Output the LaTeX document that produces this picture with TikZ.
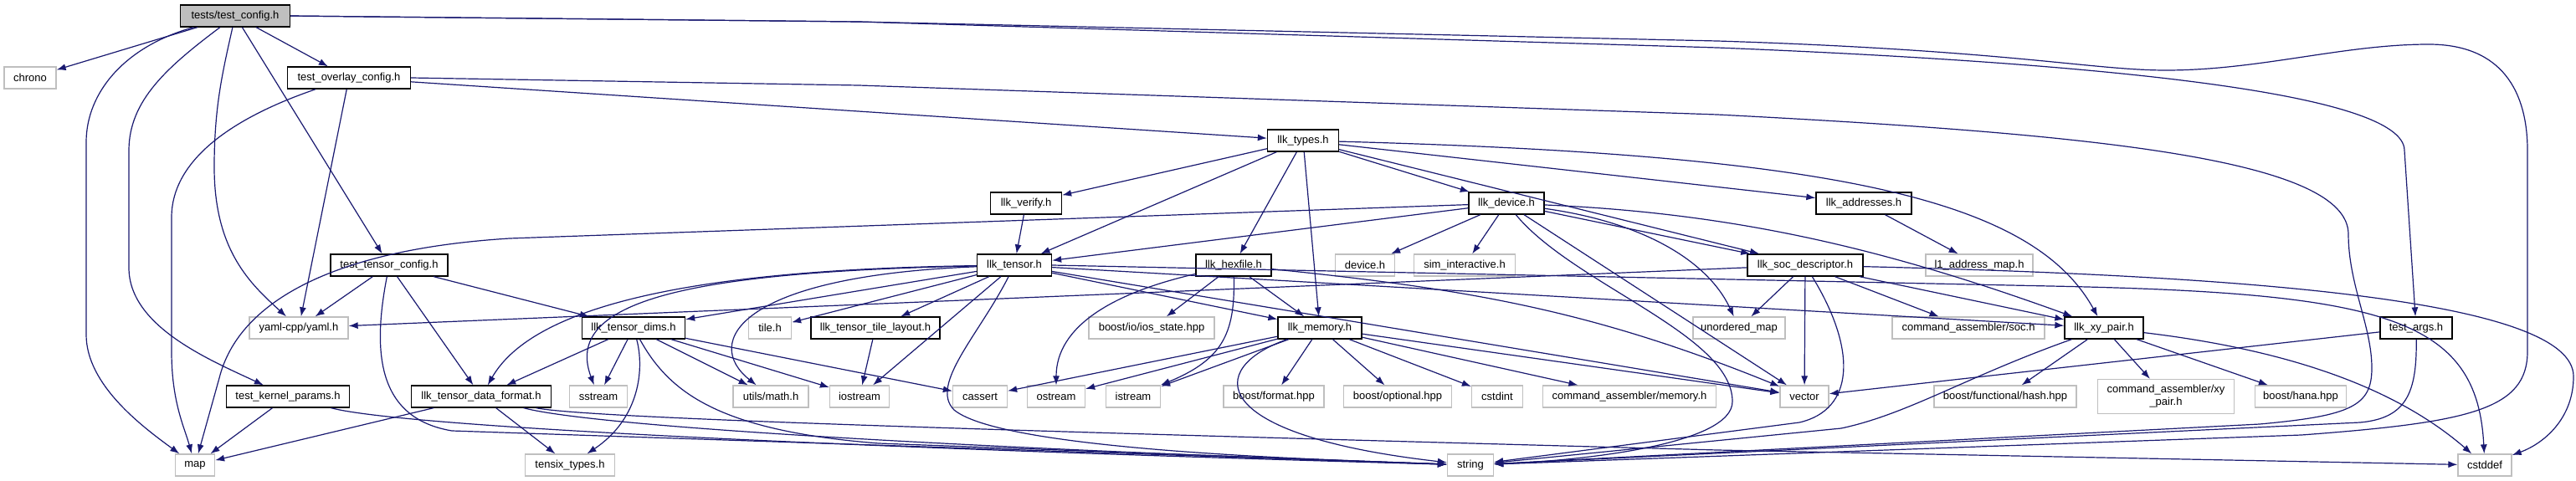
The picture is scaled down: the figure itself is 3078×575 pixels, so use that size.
\documentclass[tikz,border=0pt]{standalone}
\usepackage{fontspec}
\setmainfont{Liberation Sans}
\usetikzlibrary{arrows.meta}
\definecolor{edgec}{HTML}{191970}
\definecolor{grayb}{HTML}{BFBFBF}
\begin{document}
\begin{tikzpicture}[x=1pt,y=-1pt,
  nb/.style={draw=black, line width=1.3pt, minimum height=26pt, inner sep=0pt, font=\fontsize{13}{15}\selectfont, fill=white},
  sb/.style={draw=grayb, line width=1.3pt, minimum height=26pt, inner sep=0pt, font=\fontsize{13}{15}\selectfont, fill=white},
  e/.style={draw=edgec, line width=1.2pt, -{Latex[length=11pt,width=8pt]}},
]
\fill[white] (0,0) rectangle (3078,575);
\useasboundingbox (0,0) rectangle (3078,575);

% nodes
\node[nb, fill=grayb, minimum width=131] (cfg) at (281,19) {tests/test\_config.h};
\node[sb, minimum width=62] (chrono) at (36,93) {chrono};
\node[nb, minimum width=147] (overlay) at (417,93) {test\_overlay\_config.h};
\node[nb, minimum width=85] (types) at (1557,168) {llk\_types.h};
\node[nb, minimum width=85] (verify) at (1226,243) {llk\_verify.h};
\node[nb, minimum width=90] (device) at (1800,243) {llk\_device.h};
\node[nb, minimum width=114] (addr) at (2227,243) {llk\_addresses.h};
\node[nb, minimum width=140] (tcfg) at (465,317) {test\_tensor\_config.h};
\node[nb, minimum width=89] (tensor) at (1212,317) {llk\_tensor.h};
\node[nb, minimum width=90] (hexfile) at (1474,317) {llk\_hexfile.h};
\node[sb, minimum width=71] (deviceh) at (1631,317) {device.h};
\node[sb, minimum width=121] (sim) at (1750,317) {sim\_interactive.h};
\node[nb, minimum width=138] (soc) at (2157,317) {llk\_soc\_descriptor.h};
\node[sb, minimum width=128] (l1) at (2365,317) {l1\_address\_map.h};
\node[sb, minimum width=118] (yaml) at (357,392) {yaml-cpp/yaml.h};
\node[nb, minimum width=123] (dims) at (757,392) {llk\_tensor\_dims.h};
\node[sb, minimum width=51] (tile) at (920,392) {tile.h};
\node[nb, minimum width=154] (layout) at (1046,392) {llk\_tensor\_tile\_layout.h};
\node[sb, minimum width=150] (ios) at (1376,392) {boost/io/ios\_state.hpp};
\node[nb, minimum width=100] (memory) at (1577,392) {llk\_memory.h};
\node[sb, minimum width=110] (umap) at (2078,392) {unordered\_map};
\node[sb, minimum width=182] (socasm) at (2352,392) {command\_assembler/soc.h};
\node[nb, minimum width=94] (xy) at (2514,392) {llk\_xy\_pair.h};
\node[nb, minimum width=86] (targs) at (2887,392) {test\_args.h};
\node[nb, minimum width=147] (kparams) at (344,474) {test\_kernel\_params.h};
\node[nb, minimum width=167] (dfmt) at (575,474) {llk\_tensor\_data\_format.h};
\node[sb, minimum width=69] (sstream) at (715,474) {sstream};
\node[sb, minimum width=90] (math) at (921,474) {utils/math.h};
\node[sb, minimum width=71] (iostream) at (1027,474) {iostream};
\node[sb, minimum width=65] (cassert) at (1171,474) {cassert};
\node[sb, minimum width=69] (ostream) at (1262,474) {ostream};
\node[sb, minimum width=65] (istream) at (1354,474) {istream};
\node[sb, minimum width=120] (bformat) at (1522,474) {boost/format.hpp};
\node[sb, minimum width=129] (bopt) at (1670,474) {boost/optional.hpp};
\node[sb, minimum width=61] (cstdint) at (1789,474) {cstdint};
\node[sb, minimum width=207] (cmem) at (1947,474) {command\_assembler/memory.h};
\node[sb, minimum width=58] (vector) at (2156,474) {vector};
\node[sb, minimum width=170] (hash) at (2396,474) {boost/functional/hash.hpp};
\node[sb, minimum width=163, minimum height=41pt, align=center] (cxy) at (2588,474) {command\_assembler/xy\\\_pair.h};
\node[sb, minimum width=109] (hana) at (2749,474) {boost/hana.hpp};
\node[sb, minimum width=47] (map) at (233,556) {map};
\node[sb, minimum width=107] (tensix) at (681,556) {tensix\_types.h};
\node[sb, minimum width=55] (string) at (1757,556) {string};
\node[sb, minimum width=64] (cstddef) at (2969,556) {cstddef};

% tests/test_config.h
\draw[e] (cfg) -- (chrono);
\draw[e] (cfg) -- (overlay);
\draw[e] (cfg) .. controls (150,55) and (103,110) .. (103,170) -- (103,400) .. controls (103,460) and (170,510) .. (map);
\draw[e] (cfg) .. controls (200,80) and (154,120) .. (154,180) -- (154,320) .. controls (154,390) and (250,430) .. (kparams);
\draw[e] (cfg) .. controls (265,90) and (256,130) .. (256,200) .. controls (256,300) and (300,340) .. (yaml);
\draw[e] (cfg) -- (tcfg);
\draw[e] (cfg.east) -- (1026,26) -- (2052,57) .. controls (2500,75) and (2873,110) .. (2873,180) -- (targs);
\draw[e] (cfg.east) -- (1026,26) -- (2052,49) .. controls (2400,60) and (2500,84) .. (2588,84) .. controls (2700,84) and (2800,53) .. (2902,53) .. controls (2990,53) and (3020,110) .. (3020,180) -- (3020,420) .. controls (3020,490) and (2950,505) .. (2750,520) -- (string);

% test_overlay_config.h
\draw[e] (overlay) -- (yaml);
\draw[e] (overlay) .. controls (280,140) and (205,190) .. (205,260) -- (205,420) .. controls (205,480) and (220,510) .. (map);
\draw[e] (overlay.east) -- (1026,102) -- (2052,137) .. controls (2500,160) and (2806,190) .. (2806,280) .. controls (2806,340) and (2834,390) .. (2834,440) .. controls (2834,485) and (2810,497) .. (2700,507) -- (string);
\draw[e] (overlay) -- (types);

% llk_types.h
\draw[e] (types) -- (verify);
\draw[e] (types) -- (tensor);
\draw[e] (types) -- (hexfile);
\draw[e] (types) -- (memory);
\draw[e] (types) -- (device);
\draw[e] (types) -- (soc);
\draw[e] (types) -- (addr);
\draw[e] (types) .. controls (2200,185) and (2430,240) .. (xy);

% llk_verify.h
\draw[e] (verify) -- (tensor);

% llk_device.h
\draw[e] (device) -- (tensor);
\draw[e] (device) -- (deviceh);
\draw[e] (device) -- (sim);
\draw[e] (device) -- (soc);
\draw[e] (device) .. controls (1960,265) and (2040,310) .. (umap);
\draw[e] (device) .. controls (2080,255) and (2260,300) .. (xy);
\draw[e] (device) -- (vector);
\draw[e] (device) .. controls (1880,340) and (2070,400) .. (2070,480) .. controls (2070,530) and (1900,550) .. (string);
\draw[e] (device) -- (609,285) .. controls (400,298) and (285,360) .. (262,452) -- (map);

% llk_addresses.h
\draw[e] (addr) -- (l1);

% test_tensor_config.h
\draw[e] (tcfg) -- (yaml);
\draw[e] (tcfg) -- (dfmt);
\draw[e] (tcfg) -- (dims);
\draw[e] (tcfg) .. controls (445,420) and (450,500) .. (540,515) -- (string);

% llk_tensor.h
\draw[e] (tensor) -- (dims);
\draw[e] (tensor) .. controls (850,322) and (640,360) .. (dfmt);
\draw[e] (tensor) .. controls (820,325) and (672,360) .. (sstream);
\draw[e] (tensor) .. controls (880,330) and (840,410) .. (math);
\draw[e] (tensor) -- (tile);
\draw[e] (tensor) -- (layout);
\draw[e] (tensor) -- (iostream);
\draw[e] (tensor) -- (memory);
\draw[e] (tensor) .. controls (1170,400) and (1110,460) .. (1140,490) .. controls (1200,540) and (1600,550) .. (string);
\draw[e] (tensor) -- (vector);
\draw[e] (tensor) -- (xy);
\draw[e] (tensor.east) -- (2450,342) .. controls (2850,350) and (2960,380) .. (cstddef);

% llk_hexfile.h
\draw[e] (hexfile) -- (ios);
\draw[e] (hexfile) -- (memory);
\draw[e] (hexfile) .. controls (1330,350) and (1262,390) .. (ostream);
\draw[e] (hexfile) .. controls (1476,400) and (1460,430) .. (istream);
\draw[e] (hexfile) .. controls (1750,345) and (1900,370) .. (vector);

% llk_memory.h
\draw[e] (memory) -- (cassert);
\draw[e] (memory) -- (ostream);
\draw[e] (memory) -- (istream);
\draw[e] (memory) -- (bformat);
\draw[e] (memory) -- (bopt);
\draw[e] (memory) -- (cstdint);
\draw[e] (memory) -- (cmem);
\draw[e] (memory) -- (vector);
\draw[e] (memory) .. controls (1440,440) and (1440,520) .. (string);

% llk_tensor_dims.h
\draw[e] (dims) -- (dfmt);
\draw[e] (dims) -- (sstream);
\draw[e] (dims) .. controls (770,440) and (765,500) .. (tensix);
\draw[e] (dims) -- (math);
\draw[e] (dims) -- (iostream);
\draw[e] (dims) -- (cassert);
\draw[e] (dims) .. controls (800,470) and (860,515) .. (1050,530) -- (string);

% llk_tensor_data_format.h
\draw[e] (dfmt) -- (map);
\draw[e] (dfmt) -- (tensix);
\draw[e] (dfmt) .. controls (690,505) and (1000,530) .. (string);
\draw[e] (dfmt) .. controls (700,500) and (1200,515) .. (2052,538) -- (cstddef);

% test_kernel_params.h
\draw[e] (kparams) -- (map);
\draw[e] (kparams) .. controls (480,510) and (1000,535) .. (string);

% llk_tensor_tile_layout.h
\draw[e] (layout) -- (iostream);

% llk_soc_descriptor.h
\draw[e] (soc) -- (yaml);
\draw[e] (soc) -- (umap);
\draw[e] (soc) -- (vector);
\draw[e] (soc) -- (socasm);
\draw[e] (soc) -- (xy);
\draw[e] (soc) .. controls (2220,420) and (2215,490) .. (2150,505) -- (string);
\draw[e] (soc) .. controls (2700,330) and (3075,360) .. (3075,450) .. controls (3075,500) and (3040,530) .. (cstddef);

% llk_xy_pair.h
\draw[e] (xy) -- (hash);
\draw[e] (xy) -- (cxy);
\draw[e] (xy) -- (hana);
\draw[e] (xy) .. controls (2750,420) and (2870,470) .. (cstddef);
\draw[e] (xy) .. controls (2350,450) and (2280,495) .. (2200,512) -- (string);

% test_args.h
\draw[e] (targs) -- (vector);
\draw[e] (targs) .. controls (2888,470) and (2875,500) .. (2820,505) -- (string);
\end{tikzpicture}
\end{document}
